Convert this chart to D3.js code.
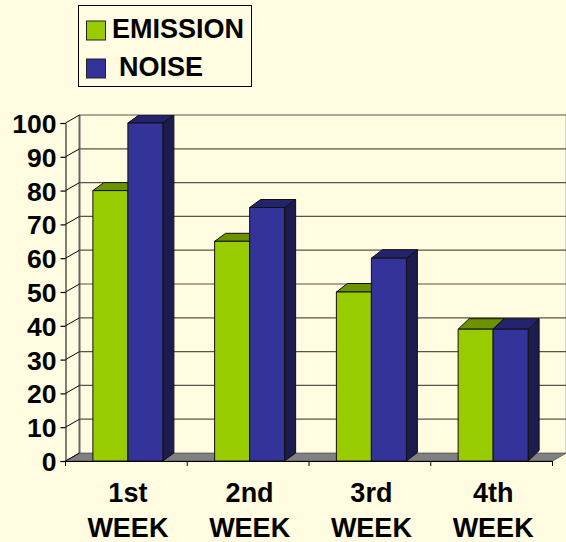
<!DOCTYPE html>
<html>
<head>
<meta charset="utf-8">
<script src="https://cdn.jsdelivr.net/npm/d3@7"></script>
<style>
  html, body { margin: 0; padding: 0; background: #fffce1; }
  svg { display: block; }
  text { font-family: "Liberation Sans", Arial, sans-serif; font-weight: bold; fill: #000; }
</style>
</head>
<body>
<div id="chart"></div>
<script>
const weeks = ['1st', '2nd', '3rd', '4th'];
const weekLine = 'WEEK';
const seriesNames = ['EMISSION', 'NOISE'];
const emission = [80, 65, 50, 39];
const noise = [100, 75, 60, 39];
const yTicks = [0, 10, 20, 30, 40, 50, 60, 70, 80, 90, 100];

const colors = {
  EMISSION: { front: '#99cc00', top: '#6d9200', side: '#6d9200' },
  NOISE: { front: '#333399', top: '#24246e', side: '#1c1c4e' }
};

const width = 566, height = 542;
const depthX = 14, depthY = 8;   // offset of the back wall
const barDepthX = 11;
const barDepthY = [8, 8, 8.5, 10.5];   // the original's bar tops are not all the same height

const svg = d3.select('#chart').append('svg')
  .attr('width', width)
  .attr('height', height);

const x = d3.scaleBand().domain(weeks).range([65.5, 552.5]);
const xBar = d3.scaleBand().domain(seriesNames).range([0, 70]);
const y = d3.scaleLinear().domain([0, 100]).range([461, 123]);

const poly = pts => pts.map(p => p.join(',')).join(' ');
const x0 = x.range()[0], x1 = x.range()[1];

// floor
svg.append('polygon')
  .attr('points', poly([[x0, y(0)], [x0 + depthX, y(0) - depthY], [x1 + depthX, y(0) - depthY], [x1, y(0)]]))
  .attr('fill', '#808080')
  .attr('stroke', '#333')
  .attr('stroke-width', 0.6);

// back wall gridlines
svg.append('g').selectAll('line')
  .data(yTicks.slice(1))
  .enter()
  .append('line')
  .attr('x1', x0 + depthX)
  .attr('x2', x1 + depthX)
  .attr('y1', d => y(d) - depthY)
  .attr('y2', d => y(d) - depthY)
  .attr('stroke', '#55554a')
  .attr('stroke-width', 1.2);

// back wall edges
svg.append('line')
  .attr('x1', x0 + depthX).attr('x2', x0 + depthX)
  .attr('y1', y(100) - depthY).attr('y2', y(0) - depthY)
  .attr('stroke', '#666').attr('stroke-width', 2);
svg.append('line')
  .attr('x1', x1 + depthX).attr('x2', x1 + depthX)
  .attr('y1', y(100) - depthY).attr('y2', y(0) - depthY)
  .attr('stroke', '#666').attr('stroke-width', 1.5);

// left wall diagonals
svg.append('g').selectAll('line')
  .data(yTicks)
  .enter()
  .append('line')
  .attr('x1', x0)
  .attr('x2', x0 + depthX)
  .attr('y1', d => y(d))
  .attr('y2', d => y(d) - depthY)
  .attr('stroke', '#000')
  .attr('stroke-width', 1);

// value axis
const yAxis = d3.axisLeft(y).tickValues(yTicks).tickSize(5).tickPadding(4);
const yG = svg.append('g').attr('transform', `translate(${x0},0)`).call(yAxis);
yG.select('.domain').attr('stroke', '#000').attr('stroke-width', 1);
yG.selectAll('.tick line').attr('stroke', '#000').attr('stroke-width', 1.2);
yG.selectAll('.tick text')
  .attr('font-family', '"Liberation Sans", Arial, sans-serif')
  .attr('font-size', 26.5)
  .attr('font-weight', 'bold')
  .attr('dy', '0.36em');

// category axis
const xAxis = d3.axisBottom(x).tickFormat('').tickSize(0);
const xG = svg.append('g').attr('transform', `translate(0,${y(0)})`).call(xAxis);
xG.select('.domain').attr('stroke', '#000').attr('stroke-width', 1.2);
svg.append('g').selectAll('line')
  .data(d3.range(weeks.length + 1))
  .enter()
  .append('line')
  .attr('x1', i => x0 + i * x.bandwidth())
  .attr('x2', i => x0 + i * x.bandwidth())
  .attr('y1', y(0))
  .attr('y2', y(0) + 5)
  .attr('stroke', '#000')
  .attr('stroke-width', 1);

// the tops of the bars stop at the top of the back wall
svg.append('clipPath').attr('id', 'plotClip')
  .append('rect')
  .attr('x', 0).attr('y', y(100) - depthY)
  .attr('width', width).attr('height', height);

const bars = svg.append('g').attr('clip-path', 'url(#plotClip)');

function drawBars(name, values) {
  const c = colors[name];
  weeks.forEach((week, i) => {
    const left = x(week) + (x.bandwidth() - xBar.range()[1]) / 2 + 1.5 + xBar(name);
    const right = left + xBar.bandwidth();
    const top = y(values[i]);
    const base = y(0);
    const dy = barDepthY[i];
    const g = bars.append('g')
      .attr('stroke', '#10100a')
      .attr('stroke-width', 1)
      .attr('stroke-linejoin', 'round');
    g.append('polygon')
      .attr('points', poly([[right, top], [right + barDepthX, top - dy], [right + barDepthX, base - dy], [right, base]]))
      .attr('fill', c.side);
    g.append('polygon')
      .attr('points', poly([[left, top], [left + barDepthX, top - dy], [right + barDepthX, top - dy], [right, top]]))
      .attr('fill', c.top);
    g.append('rect')
      .attr('x', left).attr('y', top)
      .attr('width', right - left).attr('height', base - top)
      .attr('fill', c.front);
  });
}

drawBars('EMISSION', emission);
drawBars('NOISE', noise);

// category labels
const labels = svg.append('g').attr('text-anchor', 'middle').attr('font-size', 27);
weeks.forEach(week => {
  const cx = x(week) + x.bandwidth() / 2 + 1.5;
  labels.append('text').attr('x', cx).attr('y', 502).text(week);
  labels.append('text').attr('x', cx).attr('y', 537).text(weekLine);
});

// legend
svg.append('rect')
  .attr('x', 78.5).attr('y', 5.5)
  .attr('width', 173).attr('height', 81)
  .attr('fill', 'none')
  .attr('stroke', '#000')
  .attr('stroke-width', 1);

const legendY = d3.scalePoint().domain(seriesNames).range([40, 78]);
const legendTextX = { EMISSION: 112, NOISE: 119 };
seriesNames.forEach(name => {
  svg.append('rect')
    .attr('x', 86.5).attr('y', legendY(name) - 19)
    .attr('width', 19).attr('height', 19)
    .attr('fill', colors[name].front)
    .attr('stroke', '#222')
    .attr('stroke-width', 1);
  svg.append('text')
    .attr('x', legendTextX[name])
    .attr('y', legendY(name) - 2)
    .attr('font-size', 27)
    .text(name);
});
</script>
</body>
</html>
